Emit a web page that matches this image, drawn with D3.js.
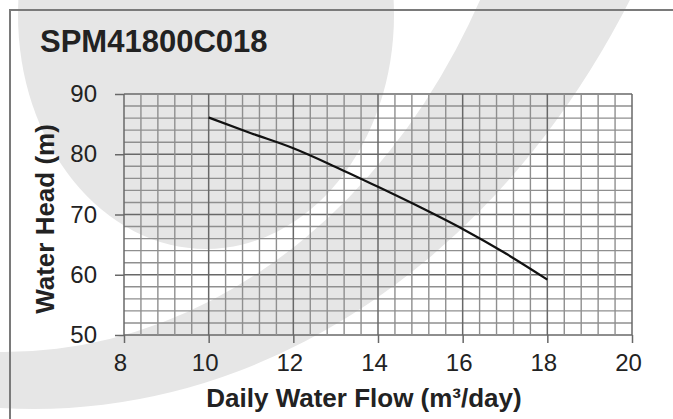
<!DOCTYPE html>
<html>
<head>
<meta charset="utf-8">
<script src="https://cdn.jsdelivr.net/npm/d3@7"></script>
<style>
  body { margin: 0; background: #fff; }
  svg text { font-family: "Liberation Sans", Arial, sans-serif; fill: #222; }
</style>
</head>
<body>
<div id="graph"></div>
<script>
// chart values
var title = "SPM41800C018";
var flow = [10, 11, 12, 13, 14, 15, 16, 17, 18];
var head = [86.1, 83.5, 81.0, 77.9, 74.6, 71.2, 67.6, 63.6, 59.2];
var xTicks = [8, 10, 12, 14, 16, 18, 20];
var yTicks = [50, 60, 70, 80, 90];
var xLabel = "Daily Water Flow (m³/day)";
var yLabel = "Water Head (m)";

var width = 673;
var height = 419;

var svg = d3.select("#graph")
  .append("svg")
  .attr("width", width)
  .attr("height", height);

// background watermark (grey disc + crescent)
var wm = svg.append("g").attr("fill", "#e6e6e6");
wm.append("ellipse")
  .attr("cx", 206).attr("cy", 15).attr("rx", 188).attr("ry", 234);

function ellipsePath(cx, cy, rx, ry) {
  return "M" + (cx - rx) + "," + cy +
    "a" + rx + "," + ry + " 0 1,0 " + (2 * rx) + ",0" +
    "a" + rx + "," + ry + " 0 1,0 " + (-2 * rx) + ",0Z";
}
wm.append("path")
  .attr("fill-rule", "evenodd")
  .attr("d", ellipsePath(34, -473, 706, 882) + ellipsePath(3.5, -328, 544, 680));

// outer frame
svg.append("path")
  .attr("d", "M10," + height + "V10H" + width)
  .attr("fill", "none")
  .attr("stroke", "#7a7a7a")
  .attr("stroke-width", 2);

// scales
var xScale = d3.scaleLinear().domain([8, 20]).range([124, 632]);
var yScale = d3.scaleLinear().domain([50, 90]).range([335, 94]);

// grid
var grid = svg.append("g");
var vLines = d3.range(0, 31).map(function(i) { return { v: 8 + i * 0.4, major: i % 5 === 0 }; });
var hLines = d3.range(0, 21).map(function(i) { return { v: 50 + i * 2, major: i % 5 === 0 }; });

grid.selectAll("line.h")
  .data(hLines)
  .enter().append("line")
  .attr("x1", xScale(8)).attr("x2", xScale(20))
  .attr("y1", function(d) { return yScale(d.v); })
  .attr("y2", function(d) { return yScale(d.v); })
  .attr("stroke", function(d) { return d.major ? "#686868" : "#8f8f8f"; })
  .attr("stroke-width", function(d) { return d.major ? 1.5 : 1.4; });

grid.selectAll("line.v")
  .data(vLines)
  .enter().append("line")
  .attr("y1", yScale(50)).attr("y2", yScale(90))
  .attr("x1", function(d) { return xScale(d.v); })
  .attr("x2", function(d) { return xScale(d.v); })
  .attr("stroke", function(d) { return d.major ? "#686868" : "#8f8f8f"; })
  .attr("stroke-width", function(d) { return d.major ? 1.5 : 1.4; });

// axes
var xAxis = svg.append("g")
  .attr("transform", "translate(0," + yScale(50) + ")")
  .call(d3.axisBottom(xScale).tickValues(xTicks).tickSize(8).tickPadding(11).tickFormat(d3.format("d")));
var yAxis = svg.append("g")
  .attr("transform", "translate(" + xScale(8) + ",0)")
  .call(d3.axisLeft(yScale).tickValues(yTicks).tickSize(9).tickPadding(18).tickFormat(d3.format("d")));

[xAxis, yAxis].forEach(function(a) {
  a.select(".domain").remove();
  a.selectAll(".tick line").attr("stroke", "#686868").attr("stroke-width", 1.5);
  a.selectAll(".tick text")
    .attr("font-size", 24)
    .attr("fill", "#222")
    .style("font-family", "'Liberation Sans', Arial, sans-serif");
});
xAxis.selectAll(".tick text").attr("dx", -4);

// pump curve
var line = d3.line()
  .x(function(d, i) { return xScale(flow[i]); })
  .y(function(d) { return yScale(d); })
  .curve(d3.curveMonotoneX);

svg.append("path")
  .datum(head)
  .attr("fill", "none")
  .attr("stroke", "#111")
  .attr("stroke-width", 2.2)
  .attr("d", line);

// titles
svg.append("text")
  .attr("x", 40).attr("y", 52)
  .attr("font-size", 31)
  .attr("font-weight", "bold")
  .text(title);

svg.append("text")
  .attr("x", 364).attr("y", 407)
  .attr("text-anchor", "middle")
  .attr("font-size", 26)
  .attr("font-weight", "bold")
  .text(xLabel);

svg.append("text")
  .attr("transform", "translate(54,219) rotate(-90)")
  .attr("text-anchor", "middle")
  .attr("font-size", 26)
  .attr("font-weight", "bold")
  .text(yLabel);
</script>
</body>
</html>
